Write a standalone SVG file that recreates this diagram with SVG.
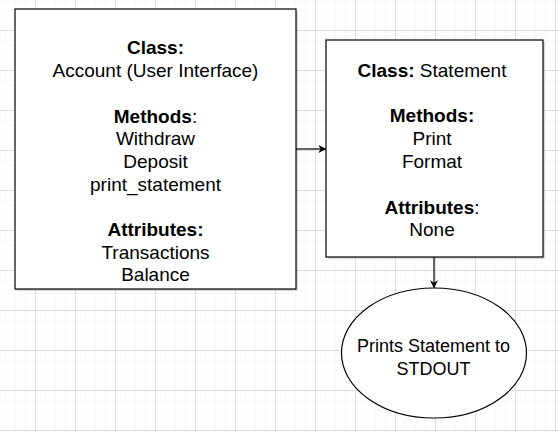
<svg xmlns="http://www.w3.org/2000/svg" width="559" height="432" viewBox="0 0 559 432">
<style>
text{font-family:"Liberation Sans",Arial,Helvetica,sans-serif;font-size:19px;fill:#000;text-anchor:middle}
.b{font-weight:bold}
.node{fill:#fff;stroke:#000;stroke-width:1.2}
.shadow{fill:#000;opacity:0.15}
.edge{stroke:#000;stroke-width:1.2;fill:none}
</style>
<defs>
<pattern id="minor" x="35" y="30" width="10" height="10" patternUnits="userSpaceOnUse">
<path d="M0 0H10M0 0V10" stroke="#f2f2f2" stroke-width="1" fill="none"/>
</pattern>
<pattern id="major" x="35" y="30" width="40" height="40" patternUnits="userSpaceOnUse">
<path d="M0 0.5H40M0.5 0V40" stroke="#dedede" stroke-width="1" fill="none"/>
</pattern>
<marker id="arr" viewBox="0 0 10 10" refX="9" refY="5" markerWidth="8" markerHeight="8" markerUnits="userSpaceOnUse" orient="auto">
<path d="M0 0L10 5L0 10L3 5Z" fill="#000"/>
</marker>
</defs>
<rect width="559" height="432" fill="#fff"/>
<rect width="559" height="432" fill="url(#minor)"/>
<rect width="559" height="432" fill="url(#major)"/>
<g id="connectors">
<line class="edge" x1="296" y1="149" x2="325.5" y2="149" marker-end="url(#arr)"/>
<line class="edge" x1="434" y1="257" x2="434" y2="287.5" marker-end="url(#arr)"/>
</g>
<g id="account">
<rect class="shadow" x="17" y="11" width="281" height="280"/>
<rect class="node" x="15" y="9" width="281" height="280"/>
<text x="155.5" y="54" class="b">Class:</text>
<text x="155.5" y="77">Account (User Interface)</text>
<text x="155.5" y="122.5"><tspan class="b">Methods</tspan>:</text>
<text x="155.5" y="145">Withdraw</text>
<text x="155.5" y="168">Deposit</text>
<text x="155.5" y="190.5">print_statement</text>
<text x="155.5" y="236" class="b">Attributes:</text>
<text x="155.5" y="259">Transactions</text>
<text x="155.5" y="281">Balance</text>
</g>
<g id="statement">
<rect class="shadow" x="328" y="42" width="217" height="217"/>
<rect class="node" x="326" y="40" width="217" height="217"/>
<text x="432" y="77"><tspan class="b">Class:</tspan> Statement</text>
<text x="432" y="122" class="b">Methods:</text>
<text x="432" y="145">Print</text>
<text x="432" y="168">Format</text>
<text x="432" y="213.5"><tspan class="b">Attributes</tspan>:</text>
<text x="432" y="236">None</text>
</g>
<g id="stdout">
<ellipse class="node" cx="434" cy="353" rx="92.5" ry="65"/>
<text x="433.5" y="352" style="font-size:18px">Prints Statement to</text>
<text x="433.5" y="375" style="font-size:18px">STDOUT</text>
</g>
</svg>
